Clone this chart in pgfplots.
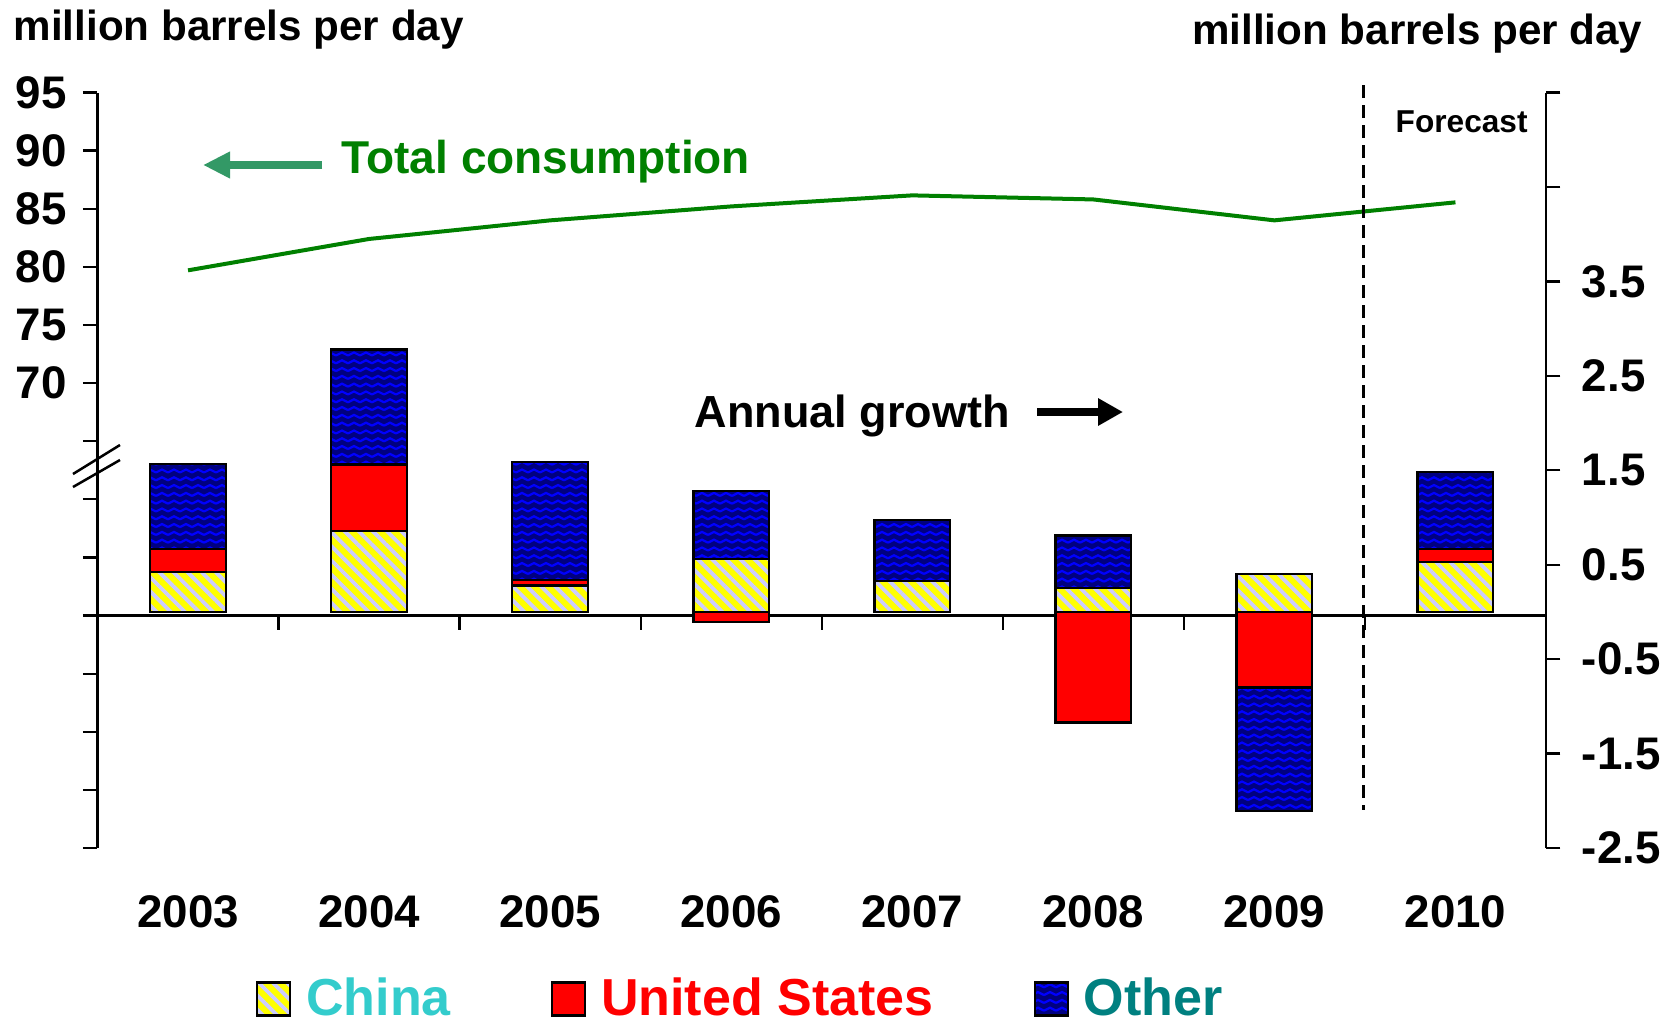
\documentclass[border=0pt]{standalone}
\usepackage{fontspec}
\setmainfont{Liberation Sans}
\usepackage{graphicx}
\usepackage{pgfplots}
\pgfplotsset{compat=1.18}
\usetikzlibrary{patterns,patterns.meta,arrows.meta}

\definecolor{chinaY}{HTML}{FFFF00}
\definecolor{lav}{HTML}{CCCCFF}
\definecolor{navyO}{HTML}{000080}
\definecolor{waveB}{HTML}{0000FF}
\definecolor{usR}{HTML}{FF0000}
\definecolor{lineG}{HTML}{008000}
\definecolor{arrG}{HTML}{339966}
\definecolor{cyanT}{HTML}{33CCCC}
\definecolor{tealT}{HTML}{008080}

\newcommand\fs[1]{\fontsize{#1}{#1}\selectfont\bfseries}

% wavy lines for the "Other" bars
\pgfdeclarepatternformonly{waves}{\pgfpoint{-0.2mm}{-0.2mm}}{\pgfpoint{1.4mm}{1.0mm}}{\pgfpoint{1.2mm}{0.78mm}}{%
  \pgfsetlinewidth{0.22mm}%
  \pgfpathmoveto{\pgfpoint{0mm}{0.25mm}}%
  \pgfpathcurveto{\pgfpoint{0.3mm}{0.25mm}}{\pgfpoint{0.3mm}{0.55mm}}{\pgfpoint{0.6mm}{0.55mm}}%
  \pgfpathcurveto{\pgfpoint{0.9mm}{0.55mm}}{\pgfpoint{0.9mm}{0.25mm}}{\pgfpoint{1.2mm}{0.25mm}}%
  \pgfusepath{stroke}}

\pgfplotsset{
  basis/.style={scale only axis, width=144.85mm, height=75.55mm,
    xmin=-0.5, xmax=7.5, clip=false,
    axis line style={line width=0.65pt},
    every tick/.style={black, line width=0.65pt},
    tick align=outside, major tick length=1.45mm,
    tick label style={font=\fs{13}}},
  china/.style={fill=chinaY, draw=black, line width=0.65pt,
    postaction={pattern={Lines[angle=-45,distance=1.0mm,line width=0.38mm]}, pattern color=lav, draw=black}},
  us/.style={fill=usR, draw=black, line width=0.65pt},
  other/.style={fill=navyO, draw=black, line width=0.65pt,
    postaction={pattern=waves, pattern color=waveB, draw=black}},
}

\begin{document}
\begin{tikzpicture}

% growth, positive parts (right axis)
\begin{axis}[basis, ymin=-2.5, ymax=5.5, ybar stacked, bar width=7.57mm,
  axis y line*=right, axis x line*=bottom, x axis line style={draw=none},
  xtick={0,...,7}, xticklabels={2003,2004,2005,2006,2007,2008,2009,2010},
  xtick style={draw=none}, xticklabel style={anchor=base, yshift=-6.45mm},
  ytick={-2.5,-1.5,-0.5,0.5,1.5,2.5,3.5,4.5,5.5},
  yticklabels={-2.5,-1.5,-0.5,0.5,1.5,2.5,3.5,{},{}},
  yticklabel style={anchor=west, xshift=0.9mm},
  legend image code/.code={\draw[#1, line width=0.65pt] (0mm,-1.65mm) rectangle (3.3mm,1.65mm);},
  legend style={at={(axis description cs:0.1094,-0.2)}, anchor=west,
    draw=none, fill=none, inner sep=0pt, outer sep=0pt,
    font=\fs{14.8}, legend columns=3,
    /tikz/every odd column/.append style={column sep=0.8mm},
    /tikz/every even column/.append style={column sep=9.3mm}},
  legend cell align=left]
\addplot[china] coordinates {(0,0.42) (1,0.86) (2,0.28) (3,0.56) (4,0.33) (5,0.25) (6,0.40) (7,0.53)};
\addplot[us] coordinates {(0,0.25) (1,0.70) (2,0.06) (3,0) (4,0) (5,0) (6,0) (7,0.14)};
\addplot[other] coordinates {(0,0.90) (1,1.22) (2,1.25) (3,0.72) (4,0.64) (5,0.56) (6,0) (7,0.81)};
\legend{\textcolor{cyanT}{China}, \textcolor{usR}{United States}, \textcolor{tealT}{Other}}
\end{axis}

% growth, negative parts
\begin{axis}[basis, ymin=-2.5, ymax=5.5, ybar stacked, bar width=7.57mm, hide axis]
\addplot[us] coordinates {(0,0) (1,0) (2,0) (3,-0.11) (4,0) (5,-1.17) (6,-0.80) (7,0)};
\addplot[other] coordinates {(0,0) (1,0) (2,0) (3,0) (4,0) (5,0) (6,-1.31) (7,0)};
\draw[line width=0.65pt] (axis cs:-0.5,-0.0385) -- (axis cs:7.5,-0.0385);
\end{axis}

% total consumption (left axis)
\begin{axis}[basis, ymin=30, ymax=95, axis y line*=left, axis x line=none,
  ytick={30,35,...,95},
  yticklabels={{},{},{},{},{},{},{},{},70,75,80,85,90,95},
  yticklabel style={xshift=-0.4mm}]
\addplot[lineG, line width=0.4mm, mark=none] coordinates {
  (0,79.7) (1,82.4) (2,84.0) (3,85.2) (4,86.15) (5,85.8) (6,84.0) (7,85.55)};
\end{axis}

% annotations, in pixel units of the reference
\begin{scope}[x=0.1mm, y=-0.1mm, shift={(-9.75mm,84.8mm)}]
\foreach \k in {1,...,7}
  \draw[line width=0.65pt] ({97.5+181.06*\k},615.7) -- ({97.5+181.06*\k},630);
\node[anchor=base west, inner sep=0pt, font=\fs{12}] at (13,41) {million barrels per day};
\node[anchor=base east, inner sep=0pt, font=\fs{12}] at (1643,45) {million barrels per day};
\node[anchor=base west, inner sep=0pt, font=\fs{13.1}, text=lineG] at (341,173) {Total consumption};
\draw[arrG, line width=0.8mm, -{Triangle[length=2.7mm,width=2.5mm]}] (322,165) -- (203,165);
\node[anchor=base west, inner sep=0pt, font=\fs{12.8}] at (694,427) {Annual growth};
\draw[black, line width=0.8mm, -{Triangle[length=2.5mm,width=2.6mm]}] (1037,412) -- (1123,412);
\node[anchor=base west, inner sep=0pt, font=\fs{9}] at (1395,132.7) {Forecast};
\draw[line width=0.25mm] (73,474) -- (120,445);
\draw[line width=0.25mm] (73,487) -- (120,460);
\draw[line width=0.3mm, dash pattern=on 1.3mm off 0.7mm] (1363,85) -- (1363,810);
\end{scope}

\pgfresetboundingbox
\path[use as bounding box] (-9.75mm,-17.3mm) rectangle (157.55mm,84.8mm);
\end{tikzpicture}
\end{document}
